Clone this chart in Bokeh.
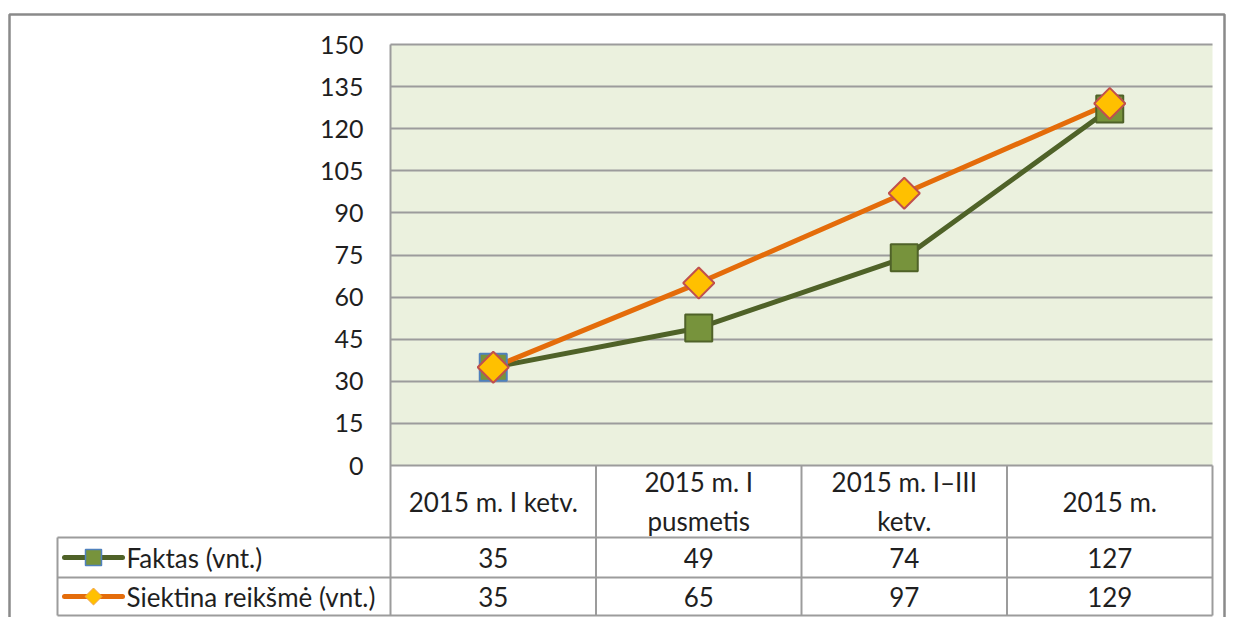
import math
from bokeh.plotting import figure
from bokeh.models import Range1d, FixedTicker
from bokeh.core.properties import value
from bokeh.embed import file_html
from bokeh.resources import INLINE

# ---------------- data ----------------
categories = ["2015 m. I ketv.", "2015 m. I\npusmetis", "2015 m. I\u2013III\nketv.", "2015 m."]
faktas = [35, 49, 74, 127]
siektina = [35, 65, 97, 129]
series_names = ["Faktas (vnt.)", "Siektina reikšmė (vnt.)"]
y_ticks = [0, 15, 30, 45, 60, 75, 90, 105, 120, 135, 150]
y_max = 150

# ---------------- layout (figure pixels) ----------------
W, H = 1227, 617
PLOT_L, PLOT_R, PLOT_T, PLOT_B = 390, 1212, 44, 465
LEG_L = 57
ROWS = [465, 537, 577, 615]
BORDER_L, BORDER_T, BORDER_R = 9, 14, 1224
FONT = "Lato"
TXT = "#1F1F1F"
GRID = "#9C9C9C"
TS = "26px"

n = len(categories)
xu = (PLOT_R - PLOT_L) / n
yu = (PLOT_B - PLOT_T) / y_max


def dx(px):
    return (px - PLOT_L) / xu


def dy(py):
    return (PLOT_B - py) / yu


p = figure(width=W, height=H, output_backend="svg", toolbar_location=None,
           x_range=Range1d(dx(0), dx(W)),
           y_range=Range1d(dy(H), dy(0)),
           min_border=0, title=None)
p.outline_line_color = None
p.background_fill_color = "white"
p.border_fill_color = "white"

# axes
p.xaxis.visible = False
p.xgrid.visible = False
ya = p.yaxis[0]
ya.fixed_location = 0
ya.ticker = FixedTicker(ticks=y_ticks)
ya.axis_line_color = None
ya.major_tick_line_color = None
ya.minor_tick_line_color = None
ya.major_tick_out = 0
ya.major_tick_in = 0
ya.major_label_standoff = 27
ya.major_label_text_font = FONT
ya.major_label_text_font_size = "25px"
ya.major_label_text_color = TXT

g = p.ygrid[0]
g.ticker = FixedTicker(ticks=y_ticks)
g.grid_line_color = GRID
g.grid_line_width = 2
g.cross_bounds = (0, n)

# plot area background
p.quad(left=[0], right=[n], bottom=[0], top=[y_max], fill_color="#EBF1DE",
       line_color=None, level="image")

# outer chart border
p.line([dx(BORDER_L), dx(BORDER_L), dx(BORDER_R), dx(BORDER_R)],
       [dy(H), dy(BORDER_T), dy(BORDER_T), dy(H)],
       line_color="#8A8A8A", line_width=2.5)

# table lines
xs0, ys0, xs1, ys1 = [], [], [], []
for i in range(n + 1):
    xs0.append(i); xs1.append(i)
    ys0.append(y_max if i == 0 else 0); ys1.append(dy(ROWS[-1]))
for r in ROWS[1:]:
    xs0.append(dx(LEG_L)); xs1.append(n)
    ys0.append(dy(r)); ys1.append(dy(r))
xs0.append(dx(LEG_L)); xs1.append(dx(LEG_L))
ys0.append(dy(ROWS[1])); ys1.append(dy(ROWS[-1]))
p.segment(x0=xs0, y0=ys0, x1=xs1, y1=ys1, line_color=GRID, line_width=2)

# series
xc = [i + 0.5 for i in range(n)]
c_fak_line, c_fak_fill = "#4F6228", "#77933C"
c_sie_line, c_sie_fill, c_sie_edge = "#E46C0A", "#FFC000", "#C0504D"
fak_edges = ["#4F81BD"] + ["#4F6228"] * (n - 1)

p.line(xc, faktas, line_color=c_fak_line, line_width=5, line_join="round")
p.line(xc, siektina, line_color=c_sie_line, line_width=5, line_join="round")
p.scatter(x=xc, y=faktas, marker="square", size=27, fill_color=c_fak_fill,
          line_color=fak_edges, line_width=2)
p.scatter(x=xc, y=siektina, marker="square", angle=math.pi / 4, size=22,
          fill_color=c_sie_fill, line_color=c_sie_edge, line_width=2)

# table header: categories
hy = dy((ROWS[0] + ROWS[1]) / 2)
p.text(x=xc, y=[hy] * n, text=categories, text_align="center", text_baseline="middle",
       text_font=value(FONT), text_font_size=TS, text_color=TXT, text_line_height=1.2)

# table rows
for k, (name, vals) in enumerate(zip(series_names, [faktas, siektina])):
    ry = dy((ROWS[k + 1] + ROWS[k + 2]) / 2)
    p.text(x=xc, y=[ry] * n, text=[str(v) for v in vals], text_align="center",
           text_baseline="middle", text_font=value(FONT), text_font_size=TS,
           text_color=TXT)
    p.text(x=[dx(126)], y=[ry], text=[name], text_align="left", text_baseline="middle",
           text_font=value(FONT), text_font_size=TS, text_color=TXT)

# legend keys in table
r1 = dy((ROWS[1] + ROWS[2]) / 2)
r2 = dy((ROWS[2] + ROWS[3]) / 2)
p.segment(x0=[dx(64)], y0=[r1], x1=[dx(122)], y1=[r1], line_color=c_fak_line,
          line_width=5, line_cap="round")
p.scatter(x=[dx(93)], y=[r1], marker="square", size=16, fill_color=c_fak_fill,
          line_color="#4F81BD", line_width=1.5)
p.segment(x0=[dx(64)], y0=[r2], x1=[dx(122)], y1=[r2], line_color=c_sie_line,
          line_width=5, line_cap="round")
p.scatter(x=[dx(93)], y=[r2], marker="square", angle=math.pi / 4, size=12,
          fill_color=c_sie_fill, line_color="#F0A050", line_width=1)

open("out.html", "w").write(file_html(p, INLINE))
